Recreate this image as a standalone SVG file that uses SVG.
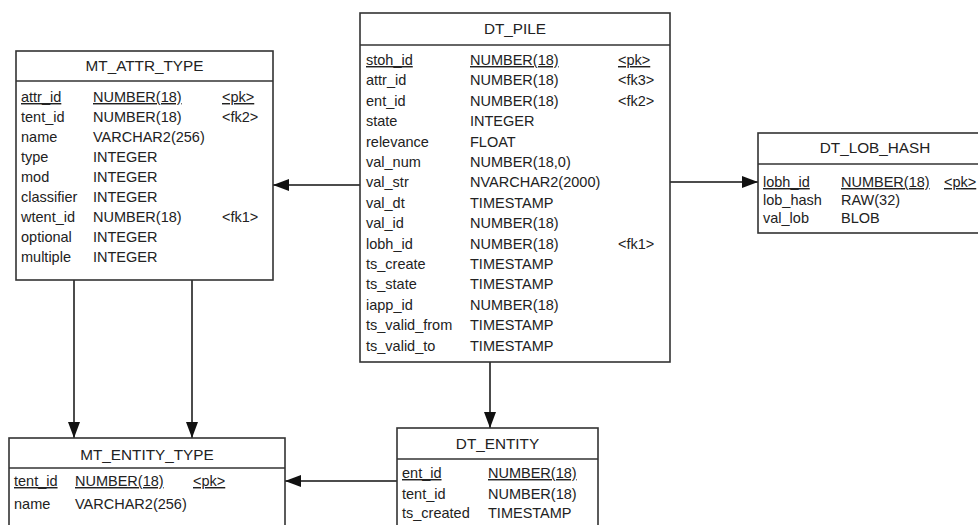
<svg xmlns="http://www.w3.org/2000/svg" width="978" height="525" viewBox="0 0 978 525">
<style>
text{font-family:"Liberation Sans",Arial,sans-serif;font-size:14.5px;fill:#222}
.t{font-size:15.3px;text-anchor:middle}
.u{text-decoration:underline}
.box{fill:#fff;stroke:#333;stroke-width:1.6}
.hd{stroke:#333;stroke-width:1.6}
.c{stroke:#111;stroke-width:1.5;fill:none}
</style>
<defs>
<marker id="ah" viewBox="0 0 16 12" refX="16" refY="6" markerWidth="16" markerHeight="12" markerUnits="userSpaceOnUse" orient="auto">
<path d="M0,0 L16,6 L0,12 Z" fill="#111"/>
</marker>
</defs>
<rect width="978" height="525" fill="#fff"/>

<g id="connectors">
<path class="c" d="M360,185 H273" marker-end="url(#ah)"/>
<path class="c" d="M670,182 H758" marker-end="url(#ah)"/>
<path class="c" d="M74,280 V438" marker-end="url(#ah)"/>
<path class="c" d="M192,280 V438" marker-end="url(#ah)"/>
<path class="c" d="M490,362 V428" marker-end="url(#ah)"/>
<path class="c" d="M397,481 H285" marker-end="url(#ah)"/>
</g>

<g id="MT_ATTR_TYPE">
<rect class="box" x="16" y="51" width="257" height="229"/>
<line class="hd" x1="16" y1="81" x2="273" y2="81"/>
<text class="t" x="144.5" y="71">MT_ATTR_TYPE</text>
<text class="u" x="21" y="102">attr_id</text><text class="u" x="93" y="102">NUMBER(18)</text><text class="u" x="222" y="102">&lt;pk&gt;</text>
<text x="21" y="122">tent_id</text><text x="93" y="122">NUMBER(18)</text><text x="222" y="122">&lt;fk2&gt;</text>
<text x="21" y="142">name</text><text x="93" y="142">VARCHAR2(256)</text>
<text x="21" y="162">type</text><text x="93" y="162">INTEGER</text>
<text x="21" y="182">mod</text><text x="93" y="182">INTEGER</text>
<text x="21" y="202">classifier</text><text x="93" y="202">INTEGER</text>
<text x="21" y="222">wtent_id</text><text x="93" y="222">NUMBER(18)</text><text x="222" y="222">&lt;fk1&gt;</text>
<text x="21" y="242">optional</text><text x="93" y="242">INTEGER</text>
<text x="21" y="262">multiple</text><text x="93" y="262">INTEGER</text>
</g>

<g id="DT_PILE">
<rect class="box" x="360" y="13" width="310" height="349"/>
<line class="hd" x1="360" y1="45" x2="670" y2="45"/>
<text class="t" x="515" y="34">DT_PILE</text>
<text class="u" x="366" y="65">stoh_id</text><text class="u" x="470" y="65">NUMBER(18)</text><text class="u" x="618" y="65">&lt;pk&gt;</text>
<text x="366" y="85.4">attr_id</text><text x="470" y="85.4">NUMBER(18)</text><text x="618" y="85.4">&lt;fk3&gt;</text>
<text x="366" y="105.8">ent_id</text><text x="470" y="105.8">NUMBER(18)</text><text x="618" y="105.8">&lt;fk2&gt;</text>
<text x="366" y="126.2">state</text><text x="470" y="126.2">INTEGER</text>
<text x="366" y="146.6">relevance</text><text x="470" y="146.6">FLOAT</text>
<text x="366" y="167">val_num</text><text x="470" y="167">NUMBER(18,0)</text>
<text x="366" y="187.4">val_str</text><text x="470" y="187.4">NVARCHAR2(2000)</text>
<text x="366" y="207.8">val_dt</text><text x="470" y="207.8">TIMESTAMP</text>
<text x="366" y="228.2">val_id</text><text x="470" y="228.2">NUMBER(18)</text>
<text x="366" y="248.6">lobh_id</text><text x="470" y="248.6">NUMBER(18)</text><text x="618" y="248.6">&lt;fk1&gt;</text>
<text x="366" y="269">ts_create</text><text x="470" y="269">TIMESTAMP</text>
<text x="366" y="289.4">ts_state</text><text x="470" y="289.4">TIMESTAMP</text>
<text x="366" y="309.8">iapp_id</text><text x="470" y="309.8">NUMBER(18)</text>
<text x="366" y="330.2">ts_valid_from</text><text x="470" y="330.2">TIMESTAMP</text>
<text x="366" y="350.6">ts_valid_to</text><text x="470" y="350.6">TIMESTAMP</text>
</g>

<g id="DT_LOB_HASH">
<rect class="box" x="758" y="133" width="234" height="100"/>
<line class="hd" x1="758" y1="164" x2="992" y2="164"/>
<text class="t" x="875" y="153">DT_LOB_HASH</text>
<text class="u" x="763" y="187">lobh_id</text><text class="u" x="841" y="187">NUMBER(18)</text><text class="u" x="944" y="187">&lt;pk&gt;</text>
<text x="763" y="205">lob_hash</text><text x="841" y="205">RAW(32)</text>
<text x="763" y="223">val_lob</text><text x="841" y="223">BLOB</text>
</g>

<g id="MT_ENTITY_TYPE">
<rect class="box" x="9" y="438" width="276" height="100"/>
<line class="hd" x1="9" y1="468" x2="285" y2="468"/>
<text class="t" x="147" y="460">MT_ENTITY_TYPE</text>
<text class="u" x="14" y="486">tent_id</text><text class="u" x="75" y="486">NUMBER(18)</text><text class="u" x="193" y="486">&lt;pk&gt;</text>
<text x="14" y="509">name</text><text x="75" y="509">VARCHAR2(256)</text>
</g>

<g id="DT_ENTITY">
<rect class="box" x="397" y="428" width="201" height="110"/>
<line class="hd" x1="397" y1="459" x2="598" y2="459"/>
<text class="t" x="497.5" y="449">DT_ENTITY</text>
<text class="u" x="402" y="478">ent_id</text><text class="u" x="488" y="478">NUMBER(18)</text>
<text x="402" y="499">tent_id</text><text x="488" y="499">NUMBER(18)</text>
<text x="402" y="518">ts_created</text><text x="488" y="518">TIMESTAMP</text>
</g>
</svg>
